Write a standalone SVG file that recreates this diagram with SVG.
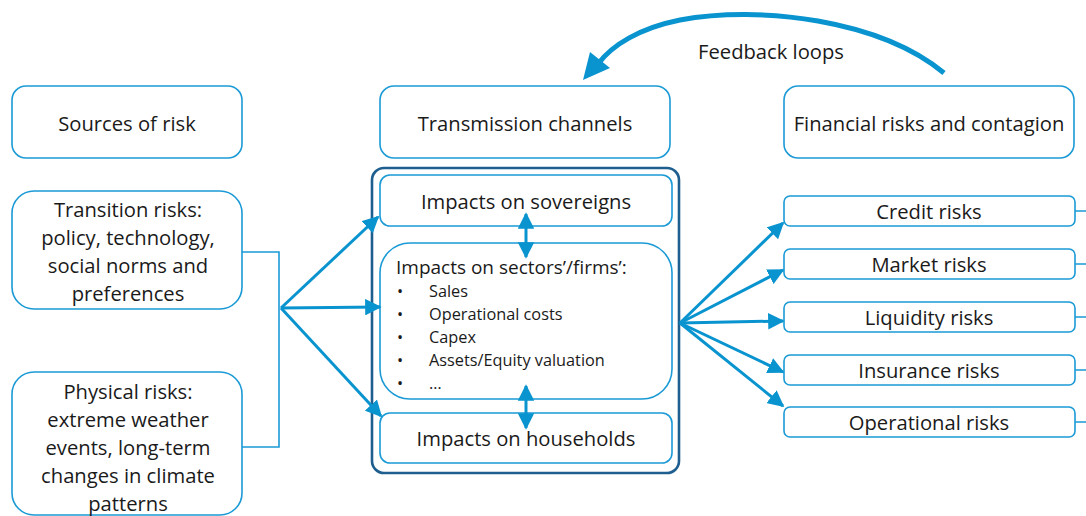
<svg xmlns="http://www.w3.org/2000/svg" width="1086" height="516" viewBox="0 0 1086 516">
<defs>
<style>
.box{fill:#fff;stroke:#1B9AD6;stroke-width:1.6}
.outer{fill:none;stroke:#1F5F8F;stroke-width:2.6}
.t{font-family:"Open Sans","Noto Sans",sans-serif;font-size:20.2px;fill:#1a1a1a;text-anchor:middle}
.s{font-family:"Open Sans","Noto Sans",sans-serif;font-size:16.3px;fill:#1a1a1a}
.ar{fill:none;stroke:#0A94CF;stroke-width:3}
.ln{fill:none;stroke:#1B9AD6;stroke-width:1.6}
</style>
<marker id="ah2" viewBox="0 0 10 10" refX="9" refY="5" markerWidth="5.5" markerHeight="5.5" orient="auto-start-reverse">
<path d="M0,0 L10,5 L0,10 Z" fill="#0A94CF"/>
</marker>
</defs>

<g id="feedback-label"><text class="t" x="771" y="59">Feedback loops</text></g>

<g id="sources"><rect class="box" x="12" y="86" width="230" height="72" rx="14"/><text class="t" x="127" y="131">Sources of risk</text></g>
<g id="transmission"><rect class="box" x="380" y="86" width="290" height="72" rx="14"/><text class="t" x="525" y="131">Transmission channels</text></g>
<g id="financial"><rect class="box" x="784" y="86" width="290" height="72" rx="14"/><text class="t" x="929" y="131">Financial risks and contagion</text></g>

<g id="transition"><rect class="box" x="12" y="191" width="230" height="118" rx="22"/>
<text class="t" x="128" y="217">Transition risks:</text>
<text class="t" x="128" y="245">policy, technology,</text>
<text class="t" x="128" y="273">social norms and</text>
<text class="t" x="128" y="301">preferences</text></g>

<g id="physical"><rect class="box" x="12" y="372" width="230" height="143" rx="22"/>
<text class="t" x="128" y="399">Physical risks:</text>
<text class="t" x="128" y="427">extreme weather</text>
<text class="t" x="128" y="455">events, long-term</text>
<text class="t" x="128" y="483">changes in climate</text>
<text class="t" x="128" y="511">patterns</text></g>

<g id="channels"><rect class="outer" x="372" y="168" width="307" height="305" rx="12"/></g>
<g id="sovereigns"><rect class="box" x="380" y="175" width="292" height="51" rx="10"/><text class="t" x="526" y="209">Impacts on sovereigns</text></g>
<g id="sectors"><rect class="box" x="380" y="243" width="292" height="156" rx="30"/>
<text class="t" x="396" y="274" style="text-anchor:start;font-size:19px">Impacts on sectors’/firms’:</text>
<text class="s" x="397" y="297">•</text><text class="s" x="429" y="297">Sales</text>
<text class="s" x="397" y="320">•</text><text class="s" x="429" y="320">Operational costs</text>
<text class="s" x="397" y="343">•</text><text class="s" x="429" y="343">Capex</text>
<text class="s" x="397" y="366">•</text><text class="s" x="429" y="366">Assets/Equity valuation</text>
<text class="s" x="397" y="389">•</text><text class="s" x="429" y="389">…</text></g>
<g id="households"><rect class="box" x="380" y="413" width="292" height="50" rx="10"/><text class="t" x="526" y="446">Impacts on households</text></g>

<g id="credit"><rect class="box" x="784" y="196" width="291" height="30" rx="6"/><text class="t" x="929" y="219">Credit risks</text></g>
<g id="market"><rect class="box" x="784" y="249" width="291" height="30" rx="6"/><text class="t" x="929" y="272">Market risks</text></g>
<g id="liquidity"><rect class="box" x="784" y="302" width="291" height="30" rx="6"/><text class="t" x="929" y="325">Liquidity risks</text></g>
<g id="insurance"><rect class="box" x="784" y="355" width="291" height="30" rx="6"/><text class="t" x="929" y="378">Insurance risks</text></g>
<g id="operational"><rect class="box" x="784" y="407" width="291" height="30" rx="6"/><text class="t" x="929" y="430">Operational risks</text></g>

<g id="connectors">
<path class="ln" d="M242,252 H279 V447 H242"/>
<path class="ar" d="M281,308 L378,217" marker-end="url(#ah2)"/>
<path class="ar" d="M281,308 L380,307" marker-end="url(#ah2)"/>
<path class="ar" d="M281,308 L381,416" marker-end="url(#ah2)"/>
<path class="ar" d="M526,214 L526,257" marker-start="url(#ah2)" marker-end="url(#ah2)"/>
<path class="ar" d="M526,386 L526,428" marker-start="url(#ah2)" marker-end="url(#ah2)"/>
<path class="ar" d="M680,323 L783,223" marker-end="url(#ah2)"/>
<path class="ar" d="M680,323 L783,270" marker-end="url(#ah2)"/>
<path class="ar" d="M680,323 L783,321" marker-end="url(#ah2)"/>
<path class="ar" d="M680,323 L783,372" marker-end="url(#ah2)"/>
<path class="ar" d="M680,323 L783,406" marker-end="url(#ah2)"/>
<path class="ln" d="M1075,211 H1086 M1075,264 H1086 M1075,317 H1086 M1075,370 H1086 M1075,422 H1086"/>
<path d="M944,73 C880,20 760,5 680,20 C640,28 612,45 598,64" fill="none" stroke="#0A94CF" stroke-width="5"/>
<path d="M583,80 L590,52 L610,68 Z" fill="#0A94CF"/>
</g>
</svg>
